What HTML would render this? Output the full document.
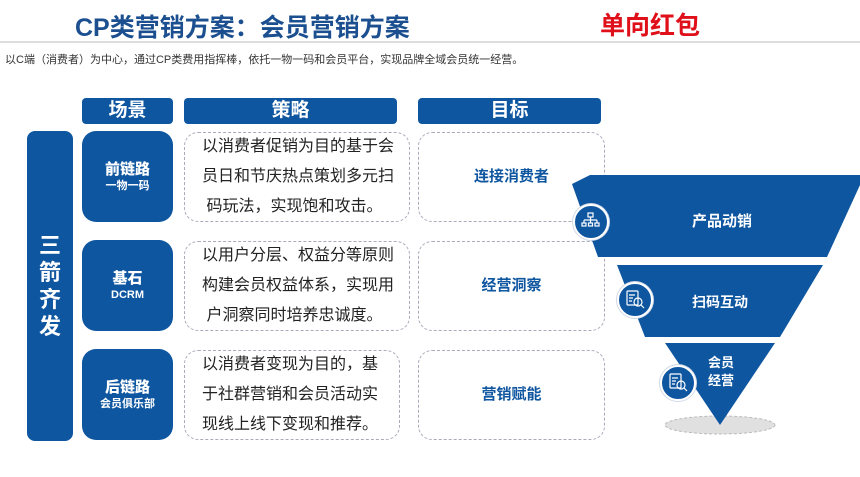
<!DOCTYPE html>
<html><head><meta charset="utf-8"><style>
body{margin:0;width:860px;height:477px;background:#fff;position:relative;overflow:hidden;font-family:"Liberation Sans","Noto Sans CJK SC",sans-serif}
.a{position:absolute}
.blue{background:#0f56a0;color:#fff}
.hd{position:absolute;top:98px;height:26px;border-radius:4px;background:#0f56a0;color:#fff;font-size:19px;font-weight:bold;text-align:center;line-height:26px}
.sc{position:absolute;left:82px;width:91px;height:91px;border-radius:14px;background:#0f56a0;color:#fff;text-align:center;font-weight:bold;display:flex;flex-direction:column;justify-content:center}
.sc b{font-size:15px;line-height:18px}.sc i{font-style:normal;font-size:11px;line-height:14px}
.st{position:absolute;left:184px;width:226px;height:90px;border:1.3px dashed #aab;border-radius:14px;box-sizing:border-box;font-size:16px;line-height:30px;color:#222;padding:0 0 0 17px;display:flex;flex-direction:column;justify-content:center}
.tg{position:absolute;left:418px;width:187px;height:90px;border:1.3px dashed #aab;border-radius:14px;box-sizing:border-box;color:#0f56a0;font-weight:bold;font-size:15px;text-align:center;line-height:88px}
.ic{position:absolute;width:32px;height:32px;border-radius:50%;background:#0f56a0;border:2px solid #fff;box-shadow:0 0 0 1px #cfd8e6}
</style></head><body>
<div class="a" style="left:75px;top:8px;font-size:25px;font-weight:bold;color:#1b4f8f">CP类营销方案：会员营销方案</div>
<div class="a" style="left:600px;top:6px;font-size:25px;font-weight:bold;color:#e0101a">单向红包</div>
<div class="a" style="left:0;top:41px;width:860px;height:2px;background:#ddd"></div>
<div class="a" style="left:5px;top:51px;font-size:11px;color:#333">以C端（消费者）为中心，通过CP类费用指挥棒，依托一物一码和会员平台，实现品牌全域会员统一经营。</div>
<div class="hd" style="left:82px;width:91px">场景</div>
<div class="hd" style="left:184px;width:213px">策略</div>
<div class="hd" style="left:418px;width:183px">目标</div>
<div class="a blue" style="left:27px;top:131px;width:46px;height:310px;border-radius:8px;display:flex;align-items:center;justify-content:center;font-size:22px;font-weight:bold;line-height:27px;text-align:center">三<br>箭<br>齐<br>发</div>
<div class="sc" style="top:131px"><b>前链路</b><i>一物一码</i></div>
<div class="sc" style="top:240px"><b>基石</b><i>DCRM</i></div>
<div class="sc" style="top:349px"><b>后链路</b><i>会员俱乐部</i></div>
<div class="st" style="top:132px">以消费者促销为目的基于会<br>员日和节庆热点策划多元扫<br>&nbsp;码玩法，实现饱和攻击。</div>
<div class="st" style="top:241px">以用户分层、权益分等原则<br>构建会员权益体系，实现用<br>&nbsp;户洞察同时培养忠诚度。</div>
<div class="st" style="top:350px;width:216px">以消费者变现为目的，基<br>于社群营销和会员活动实<br>现线上线下变现和推荐。</div>
<div class="tg" style="top:132px">连接消费者</div>
<div class="tg" style="top:241px">经营洞察</div>
<div class="tg" style="top:350px">营销赋能</div>
<svg class="a" style="left:0;top:0" width="860" height="477">
<ellipse cx="720" cy="425" rx="55" ry="9" fill="#e0e0e0" stroke="#bbb" stroke-dasharray="3 2"/>
<polygon points="572,184 590,175 860,175 860,185 827,257 818,257 620,257 598,257" fill="#0f56a0"/>
<polygon points="617,265 823,265 780,337 645,337" fill="#0f56a0"/>
<polygon points="665,343 775,343 720,425" fill="#0f56a0"/>
<text x="722" y="226" fill="#fff" font-size="15" font-weight="bold" text-anchor="middle" font-family="Liberation Sans,Noto Sans CJK SC,sans-serif">产品动销</text>
<text x="720" y="307" fill="#fff" font-size="14" font-weight="bold" text-anchor="middle" font-family="Liberation Sans,Noto Sans CJK SC,sans-serif">扫码互动</text>
<text x="721" y="367" fill="#fff" font-size="13" font-weight="bold" text-anchor="middle" font-family="Liberation Sans,Noto Sans CJK SC,sans-serif">会员</text>
<text x="721" y="385" fill="#fff" font-size="13" font-weight="bold" text-anchor="middle" font-family="Liberation Sans,Noto Sans CJK SC,sans-serif">经营</text>
</svg>
<div class="ic" style="left:573px;top:204px"></div>
<div class="ic" style="left:617px;top:282px"></div>
<div class="ic" style="left:660px;top:365px"></div>
<svg class="a" style="left:0;top:0" width="860" height="477" fill="none" stroke="#fff" stroke-width="1.2">
<rect x="588" y="213" width="5" height="4"/><path d="M590.5 217v3M584 220h13M584 220v3M590.5 220v3M597 220v3"/><rect x="582" y="223" width="4" height="3"/><rect x="588.5" y="223" width="4" height="3"/><rect x="595" y="223" width="4" height="3"/>
<rect x="627" y="291" width="11" height="14" rx="1"/><path d="M629 295h6M629 298h4M629 301h3"/><circle cx="638" cy="302" r="4"/><path d="M641 305l3 3"/>
<rect x="670" y="374" width="11" height="14" rx="1"/><path d="M672 378h6M672 381h4M672 384h3"/><circle cx="681" cy="385" r="4"/><path d="M684 388l3 3"/>
</svg>
</body></html>
